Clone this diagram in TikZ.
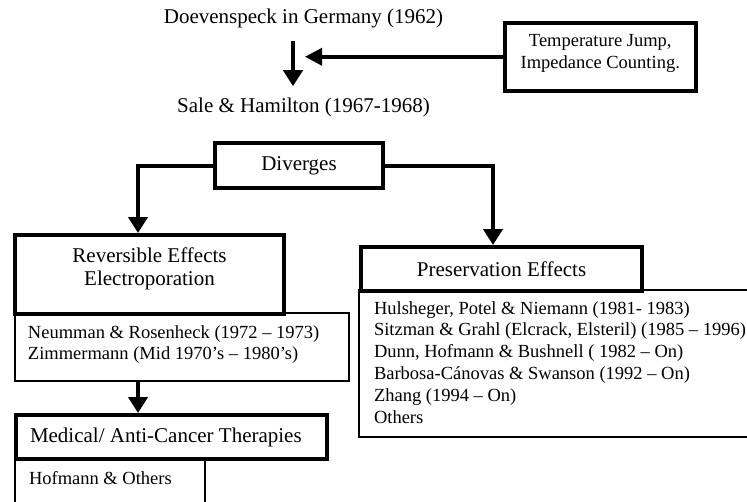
\documentclass[tikz,border=0pt]{standalone}
\usepackage{fontspec}
\setmainfont{Liberation Serif}
\usetikzlibrary{arrows.meta}
\newcommand{\headtxt}{\fontsize{21}{22.5}\selectfont}
\newcommand{\listtxt}{\fontsize{18.5}{21.8}\selectfont}
\begin{document}
\begin{tikzpicture}[x=1pt,y=-1pt,
  thickbox/.style={draw, line width=4pt, inner sep=0pt, anchor=north west},
  midbox/.style={draw, line width=3.5pt, inner sep=0pt, anchor=north west},
  thinbox/.style={draw, line width=2pt, inner sep=0pt, anchor=north west},
  plain/.style={inner sep=0pt, anchor=base, font=\headtxt},
  flow/.style={line width=4pt, -{Triangle[length=16pt,width=19pt]}},
  feed/.style={line width=3.5pt, -{Triangle[length=17pt,width=17pt]}},
]
\useasboundingbox (0,0) rectangle (747,501);
\fill[white] (0,0) rectangle (747,501);
\clip (0,0) rectangle (747,501);

% vertical lanes used by the connectors
\coordinate (laneT) at (293,0);
\coordinate (laneL) at (138,0);
\coordinate (laneR) at (493,0);
\coordinate (hit) at (305,0);

% history at the top
\node[plain] (doev) at (303.5,23) {Doevenspeck in Germany (1962)};
\node[plain] (sale) at (303.5,112) {Sale \& Hamilton (1967-1968)};

\node[midbox] (temp) at (503,21)
  {\parbox[c][68pt][t]{191pt}{\listtxt\centering\rule{0pt}{24pt}Temperature Jump,\\Impedance Counting.}};

\draw[flow, shorten <=13.5pt, shorten >=11pt] (doev.south -| laneT) -- (sale.north -| laneT);
\draw[feed] (temp.west) -- (temp.west -| hit);

% split
\node[thickbox, anchor=center, minimum width=168pt, minimum height=45pt, font=\headtxt] (div) at (299,165.5) {Diverges};

% thin detail boxes (drawn first, headers go on top)
\node[thinbox] (neu) at (14,312)
  {\parbox[c][68pt][t]{334pt}{\listtxt\leftskip=13pt\relax\rule{0pt}{25pt}Neumman \& Rosenheck (1972 -- 1973)\\Zimmermann (Mid 1970’s -- 1980’s)\par}};
\node[thinbox] (hof) at (14,457)
  {\parbox[c][70pt][t]{190pt}{\listtxt\leftskip=14pt\relax\rule{0pt}{26pt}Hofmann \& Others\par}};
\node[thinbox] (plist) at (358,289)
  {\parbox[c][147pt][t]{410pt}{\listtxt\leftskip=15pt\relax\rule{0pt}{24pt}Hulsheger, Potel \& Niemann (1981- 1983)\\
   Sitzman \& Grahl (Elcrack, Elsteril) (1985 -- 1996)\\
   Dunn, Hofmann \& Bushnell ( 1982 -- On)\\
   Barbosa-Cánovas \& Swanson (1992 -- On)\\
   Zhang (1994 -- On)\\
   Others\par}};

% header boxes
\node[thickbox] (rev) at (13,233)
  {\parbox[c][79pt][t]{269pt}{\headtxt\centering\rule{0pt}{27.7pt}Reversible Effects\\Electroporation\par}};
\node[thickbox] (med) at (14,413)
  {\parbox[c][44pt][t]{311pt}{\headtxt\leftskip=14pt\relax\rule{0pt}{27pt}Medical/ Anti-Cancer Therapies\par}};
\node[thickbox, minimum width=281pt, minimum height=44pt, font=\headtxt] (pres) at (359,245) {Preservation Effects};

% connectors
\draw[flow] (div.west) -| (rev.north -| laneL);
\draw[flow] (div.east) -| (pres.north -| laneR);
\draw[flow] (neu.south -| laneL) -- (med.north -| laneL);
\end{tikzpicture}
\end{document}
